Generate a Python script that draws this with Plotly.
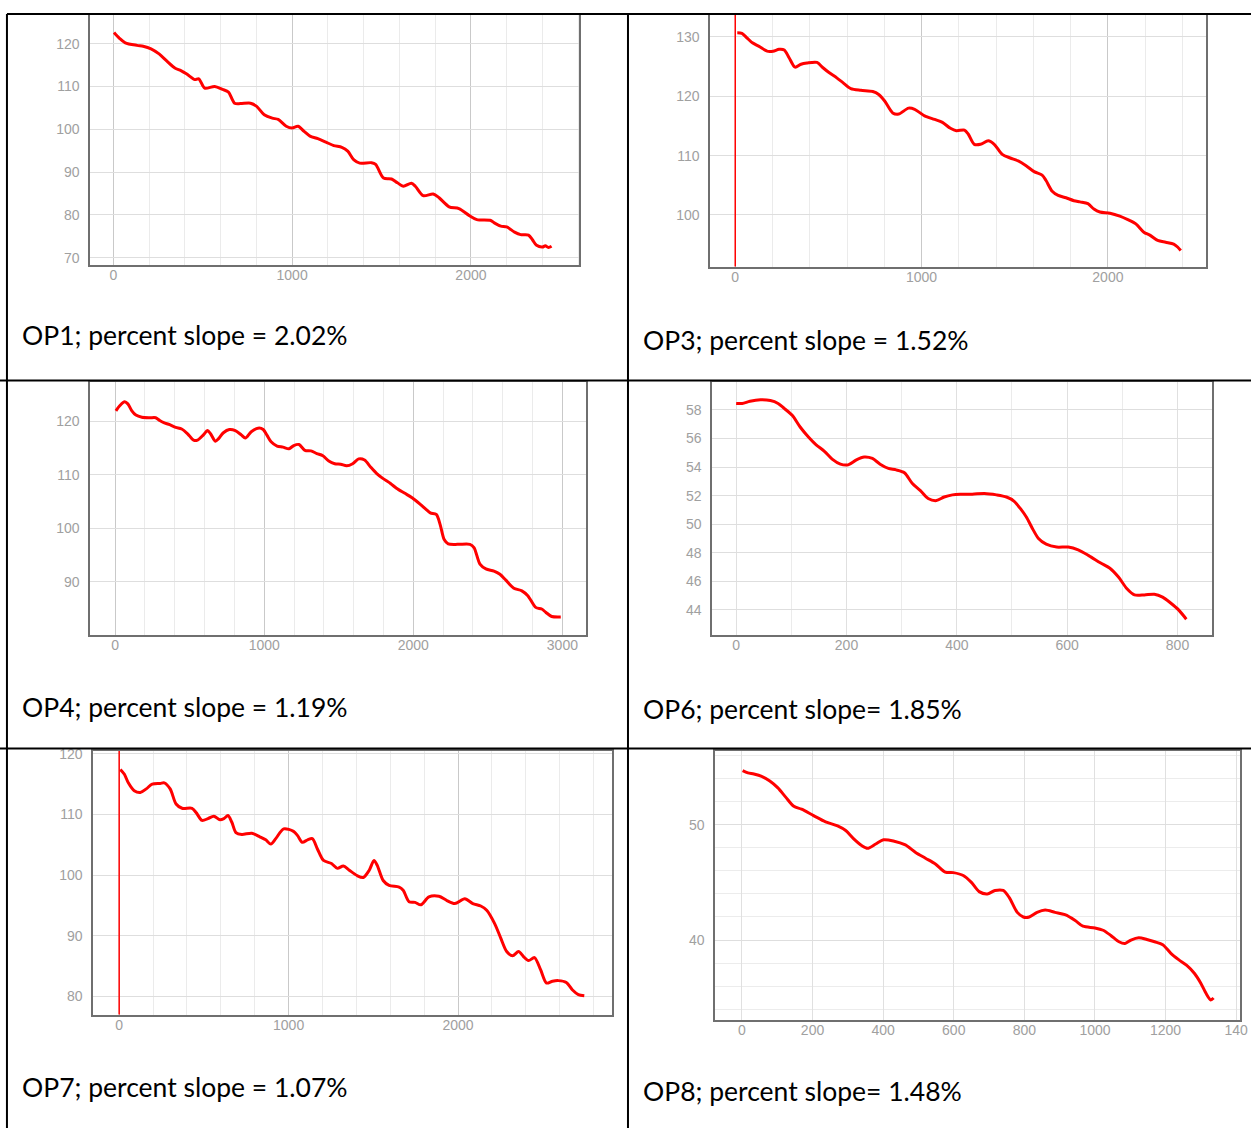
import plotly.graph_objects as go

W, H = 1259, 1129

# ---------------- data ----------------
op1_x = [4, 33, 67, 133, 167, 211, 256, 300, 344, 378, 411, 456, 478, 511, 567, 611, 644, 678, 711, 767,
         800, 844, 889, 922, 967, 1000, 1033, 1067, 1100, 1144, 1189, 1233, 1278, 1311, 1344, 1378, 1444,
         1467, 1511, 1556, 1589, 1622, 1667, 1689, 1733, 1789, 1822, 1878, 1933, 1989, 2033, 2111, 2133,
         2167, 2200, 2244, 2278, 2322, 2344, 2367, 2400, 2416, 2433, 2451]
op1_y = [122.6, 121.3, 120.2, 119.6, 119.4, 118.8, 117.6, 115.9, 114.3, 113.7, 112.9, 111.6, 111.8, 109.6,
         110.0, 109.3, 108.7, 106.1, 106.0, 106.1, 105.4, 103.4, 102.6, 102.3, 100.7, 100.3, 100.7, 99.5,
         98.4, 97.8, 97.0, 96.2, 95.8, 94.9, 92.9, 92.1, 92.2, 91.8, 88.6, 88.4, 87.5, 86.7, 87.4, 86.7,
         84.5, 84.9, 84.0, 81.9, 81.5, 79.9, 78.9, 78.7, 78.1, 77.4, 77.2, 76.0, 75.4, 75.3, 74.2, 72.9,
         72.5, 72.8, 72.4, 72.7]

op3_x = [11, 36, 64, 92, 128, 171, 203, 235, 263, 289, 321, 353, 385, 439, 471, 503, 545, 578, 620, 674,
         738, 770, 802, 845, 877, 930, 963, 1016, 1070, 1112, 1155, 1187, 1230, 1251, 1283, 1316, 1358,
         1390, 1433, 1476, 1519, 1561, 1604, 1647, 1668, 1701, 1733, 1775, 1818, 1850, 1893, 1925, 1957,
         2011, 2064, 2107, 2150, 2193, 2225, 2267, 2310, 2353, 2374, 2391]
op3_y = [130.7, 130.6, 129.8, 129.0, 128.4, 127.6, 127.6, 127.9, 127.8, 126.5, 124.9, 125.4, 125.6, 125.7,
         124.8, 124.0, 123.1, 122.3, 121.3, 121.0, 120.8, 120.3, 119.2, 117.2, 117.0, 118.0, 117.8, 116.7,
         116.1, 115.6, 114.6, 114.2, 114.3, 113.6, 111.9, 111.9, 112.5, 111.9, 110.2, 109.6, 109.1, 108.3,
         107.3, 106.7, 105.8, 104.0, 103.3, 102.9, 102.4, 102.2, 101.9, 101.0, 100.5, 100.3, 99.8, 99.2,
         98.5, 97.1, 96.6, 95.7, 95.4, 95.1, 94.6, 94.0]

op4_x = [5, 32, 64, 85, 112, 139, 179, 232, 272, 299, 326, 366, 406, 446, 486, 526, 552, 592, 619, 640,
         672, 694, 726, 766, 806, 846, 873, 913, 966, 993, 1019, 1046, 1086, 1126, 1166, 1198, 1233, 1273,
         1313, 1353, 1393, 1433, 1473, 1513, 1553, 1593, 1633, 1673, 1713, 1753, 1793, 1847, 1887, 1940,
         1994, 2047, 2087, 2114, 2154, 2180, 2207, 2234, 2300, 2380, 2407, 2447, 2487, 2541, 2581, 2621,
         2674, 2728, 2768, 2821, 2861, 2888, 2928, 2989]
op4_y = [122.0, 123.0, 123.7, 123.3, 122.0, 121.2, 120.8, 120.7, 120.7, 120.2, 119.8, 119.4, 118.9, 118.6,
         117.7, 116.5, 116.5, 117.5, 118.3, 117.7, 116.3, 116.8, 117.9, 118.5, 118.3, 117.5, 116.9, 118.1,
         118.8, 118.5, 117.4, 116.2, 115.4, 115.2, 114.9, 115.5, 115.7, 114.6, 114.5, 114.0, 113.6, 112.6,
         112.1, 112.0, 111.7, 112.1, 113.0, 112.8, 111.5, 110.3, 109.4, 108.4, 107.5, 106.6, 105.7, 104.5,
         103.5, 102.9, 102.6, 100.7, 97.9, 97.1, 97.0, 97.0, 96.4, 93.3, 92.4, 92.0, 91.4, 90.3, 88.8,
         88.3, 87.4, 85.2, 84.9, 84.3, 83.5, 83.4]

op6_x = [0, 11, 25, 44, 62, 76, 87, 102, 116, 131, 145, 160, 174, 189, 203, 218, 232, 247, 261, 276, 290,
         305, 319, 334, 348, 363, 377, 392, 406, 428, 450, 472, 490, 504, 515, 526, 537, 548, 562, 581,
         602, 620, 639, 660, 678, 693, 708, 722, 740, 758, 773, 787, 802, 816]
op6_y = [58.45, 58.45, 58.6, 58.7, 58.65, 58.45, 58.1, 57.6, 56.8, 56.1, 55.55, 55.1, 54.55, 54.2, 54.15,
         54.5, 54.7, 54.6, 54.2, 53.9, 53.8, 53.6, 52.87, 52.35, 51.8, 51.65, 51.9, 52.05, 52.1, 52.1,
         52.15, 52.05, 51.9, 51.6, 51.1, 50.5, 49.7, 49.0, 48.6, 48.4, 48.4, 48.2, 47.8, 47.3, 46.9, 46.3,
         45.5, 45.05, 45.05, 45.1, 44.9, 44.5, 44.0, 43.35]

op7_x = [7, 31, 54, 89, 125, 160, 195, 242, 266, 301, 336, 371, 430, 454, 489, 524, 559, 595, 618, 642,
         665, 689, 724, 783, 830, 865, 895, 924, 971, 1029, 1053, 1081, 1112, 1140, 1170, 1206, 1253, 1288,
         1323, 1358, 1405, 1441, 1476, 1504, 1523, 1558, 1593, 1652, 1676, 1711, 1746, 1781, 1828, 1887,
         1934, 1981, 2040, 2087, 2134, 2169, 2216, 2252, 2287, 2322, 2357, 2385, 2416, 2451, 2487, 2522,
         2557, 2592, 2639, 2674, 2710, 2745]
op7_y = [117.4, 116.6, 115.2, 113.9, 113.6, 114.2, 115.0, 115.1, 115.2, 114.2, 111.7, 111.0, 111.0, 110.3,
         109.0, 109.3, 109.7, 109.1, 109.3, 109.8, 108.7, 107.0, 106.7, 106.9, 106.3, 105.8, 105.1, 106.0,
         107.6, 107.2, 106.5, 105.4, 105.8, 106.0, 104.3, 102.4, 101.9, 101.1, 101.5, 100.8, 99.9, 99.6,
         100.8, 102.4, 101.6, 99.1, 98.3, 98.0, 97.5, 95.6, 95.5, 95.1, 96.4, 96.5, 95.8, 95.3, 96.1, 95.3,
         94.9, 94.2, 92.0, 89.6, 87.4, 86.7, 87.4, 86.6, 85.9, 86.4, 84.4, 82.2, 82.5, 82.6, 82.3, 81.1,
         80.3, 80.1]

op8_x = [2, 17, 34, 56, 79, 102, 124, 147, 169, 203, 237, 271, 294, 316, 339, 356, 379, 401, 429, 463,
         492, 520, 548, 576, 599, 627, 650, 672, 695, 717, 740, 757, 780, 797, 814, 836, 859, 887, 915,
         944, 966, 1000, 1023, 1045, 1068, 1085, 1102, 1124, 1147, 1169, 1192, 1215, 1237, 1260, 1282,
         1299, 1316, 1328, 1336]
op8_y = [54.7, 54.5, 54.4, 54.2, 53.8, 53.2, 52.4, 51.6, 51.35, 50.8, 50.26, 49.9, 49.5, 48.8, 48.2, 47.96,
         48.33, 48.7, 48.6, 48.25, 47.6, 47.1, 46.6, 45.9, 45.85, 45.6, 45.0, 44.2, 44.0, 44.3, 44.3, 43.7,
         42.4, 42.0, 42.0, 42.4, 42.6, 42.4, 42.2, 41.7, 41.2, 41.05, 40.85, 40.4, 39.85, 39.7, 40.0, 40.2,
         40.05, 39.85, 39.6, 38.85, 38.3, 37.8, 37.1, 36.3, 35.3, 34.8, 34.97]
# OP8 x tick labels as printed (the last one is cut off at the cell edge in the source)
op8_xtick_vals = [0, 200, 400, 600, 800, 1000, 1200, 1400]
op8_xtick_text = ["0", "200", "400", "600", "800", "1000", "1200", "140"]

names = ["OP1", "OP3", "OP4", "OP6", "OP7", "OP8"]
captions = ["OP1; percent slope = 2.02%", "OP3; percent slope = 1.52%", "OP4; percent slope = 1.19%",
            "OP6; percent slope= 1.85%", "OP7; percent slope = 1.07%", "OP8; percent slope= 1.48%"]
series_x = [op1_x, op3_x, op4_x, op6_x, op7_x, op8_x]
series_y = [op1_y, op3_y, op4_y, op6_y, op7_y, op8_y]
start_markers = {"OP3": 0, "OP7": 0}   # red vertical start marker

# ---------------- layout (pixels) ----------------
# plot frame: left, right, top, bottom (px)
frames = [(91, 583, 10, 261), (715, 1214, 10, 263), (91, 590, 379, 633),
          (717, 1220, 379, 633), (94, 616, 750, 1015), (720, 1248, 750, 1020)]
xranges = [(-128, 2606), (-133, 2528), (-166, 3160), (-43, 863), (-152, 2909), (-75, 1411)]
yranges = [(68.4, 126.7), (91.3, 133.7), (80.1, 127.4), (42.27, 59.95), (77.0, 120.44), (33.1, 56.4)]
xdticks = [(1000, 200), (1000, 200), (1000, 200), (200, 100), (1000, 200), (200, None)]
ydticks = [(10, None), (10, None), (10, None), (2, None), (10, None), (10, 2)]
cap_pos = [(20.5, 332), (645, 337), (20.5, 706), (645, 708), (20.5, 1088), (645, 1092)]

def px(x):
    return x / W

def py(y):
    return 1 - y / H

fig = go.Figure()
layout = dict(width=W, height=H, margin=dict(l=0, r=0, t=0, b=0),
              paper_bgcolor="white", plot_bgcolor="white", showlegend=False)

tickfont = dict(family="Liberation Sans, Arial, sans-serif", size=14, color="#a0a0a0")
shapes = []
annotations = []

for i, name in enumerate(names):
    k = "" if i == 0 else str(i + 1)
    l, r, t, b = frames[i]
    fig.add_trace(go.Scatter(x=series_x[i], y=series_y[i], mode="lines",
                             line=dict(color="#ff0000", width=3, shape="spline", smoothing=0.8),
                             xaxis="x" + k, yaxis="y" + k, name=name))
    xmaj, xmin = xdticks[i]
    ymaj, ymin = ydticks[i]
    xa = dict(domain=[px(l), px(r)], range=list(xranges[i]), anchor="y" + k,
              tickmode="linear", tick0=0, dtick=xmaj, showgrid=True,
              gridcolor="#c9c9c9" if xmaj >= 1000 else "#e0e0e0", gridwidth=1,
              showline=True, mirror=True, linecolor="#6f6f6f", linewidth=2,
              zeroline=False, ticks="", tickfont=tickfont, ticklabelstandoff=-3)
    if name == "OP8":
        xa.update(tickmode="array", tickvals=op8_xtick_vals, ticktext=op8_xtick_text)
    if xmin:
        xa["minor"] = dict(dtick=xmin, tick0=0, showgrid=True, gridcolor="#ebebeb", gridwidth=1)
    ya = dict(domain=[py(b), py(t)], range=list(yranges[i]), anchor="x" + k,
              tickmode="linear", tick0=0, dtick=ymaj, showgrid=True,
              gridcolor="#dedede", gridwidth=1,
              showline=True, mirror=True, linecolor="#6f6f6f", linewidth=2,
              zeroline=False, ticks="", tickfont=tickfont, ticklabelstandoff=6)
    if ymin:
        ya["minor"] = dict(dtick=ymin, tick0=0, showgrid=True, gridcolor="#ececec", gridwidth=1)
    layout["xaxis" + k] = xa
    layout["yaxis" + k] = ya

    if name in start_markers:
        shapes.append(dict(type="line", xref="x" + k, yref="y" + k + " domain",
                           x0=start_markers[name], x1=start_markers[name], y0=0, y1=1,
                           line=dict(color="#ff0000", width=1.5), layer="above"))

    cx, cy = cap_pos[i]
    annotations.append(dict(text=captions[i], xref="paper", yref="paper", x=px(cx), y=py(cy),
                            xanchor="left", yanchor="middle", showarrow=False,
                            font=dict(family="Lato, Open Sans, sans-serif", size=26.5, color="#000000")))

# table rules
black = dict(color="#000000", width=2)
for (x0, y0, x1, y1) in [(7, 9, W, 9), (7, 9, 7, H), (632, 9, 632, H),
                         (0, 377.5, W, 377.5), (0, 747.5, W, 747.5)]:
    shapes.append(dict(type="line", xref="paper", yref="paper", x0=px(x0), x1=px(x1),
                       y0=py(y0), y1=py(y1), line=black, layer="above"))

layout["shapes"] = shapes
layout["annotations"] = annotations
fig.update_layout(**layout)
fig.write_html("out.html", config={"displayModeBar": False},
               post_script="document.body.style.margin='0';document.body.style.overflow='hidden';")
